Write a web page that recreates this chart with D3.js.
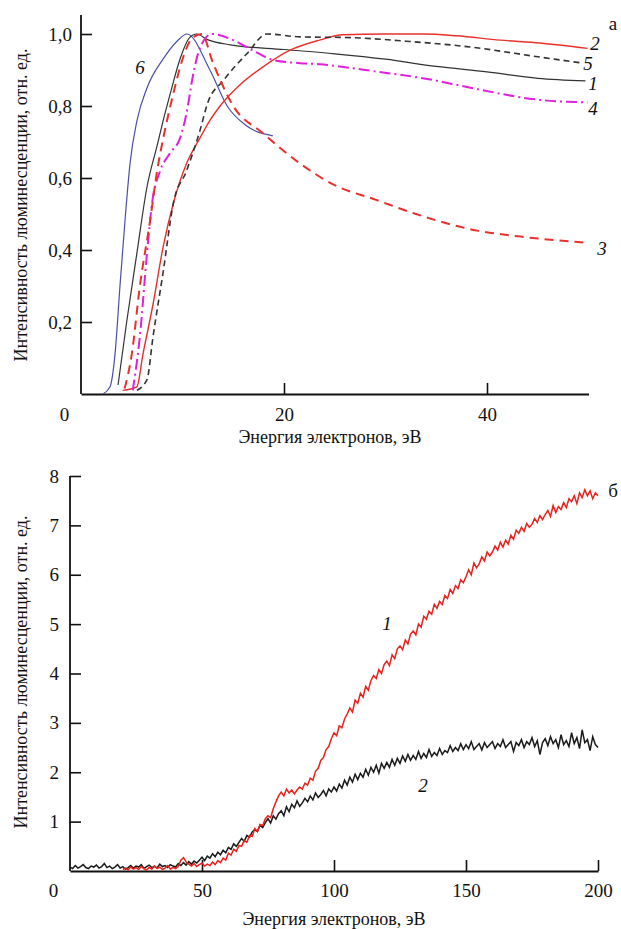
<!DOCTYPE html>
<html>
<head>
<meta charset="utf-8">
<script src="https://cdn.jsdelivr.net/npm/d3@7"></script>
<style>
  body { margin: 0; background: #fff; }
</style>
</head>
<body>
<div id="chart"></div>
<script>
const FONT = "'Liberation Serif', 'DejaVu Serif', Times, serif";

// ---- panel а : normalised luminescence vs electron energy ----
const curve1 = [[3.65,0.025],[4.5,0.2],[5.5,0.39],[6.5,0.575],[7.5,0.69],[8.1,0.76],[8.8,0.835],[9.75,0.93],[10.7,0.99],[11.4,1.0],[12.4,0.985],[14.7,0.97],[20,0.957],[25,0.945],[30,0.93],[35,0.91],[40,0.895],[45,0.877],[49.7,0.87]];
const curve2 = [[4.1,0.01],[5.5,0.02],[6.1,0.11],[7.1,0.25],[8.1,0.41],[9.1,0.53],[10.4,0.64],[11.7,0.71],[12.7,0.76],[13.7,0.8],[15.7,0.86],[17.9,0.908],[20.6,0.955],[23.5,0.983],[25.8,0.998],[30,1.0],[33.7,1.0],[37,0.995],[41.3,0.983],[45.2,0.975],[49.9,0.96]];
const curve3 = [[4.3,0.015],[5.0,0.11],[5.8,0.3],[6.8,0.48],[7.5,0.62],[8.1,0.71],[9.1,0.835],[10.0,0.93],[11.0,0.99],[11.9,1.0],[13,0.92],[15,0.8],[17.9,0.725],[21.6,0.64],[25,0.58],[29,0.54],[33,0.5],[38,0.46],[44,0.435],[50,0.42]];
const curve4 = [[5.1,0.01],[5.8,0.16],[6.5,0.39],[7.0,0.53],[7.8,0.62],[8.8,0.67],[9.75,0.71],[10.4,0.78],[11.0,0.88],[11.7,0.96],[12.9,1.0],[15,0.983],[16.9,0.955],[18.9,0.928],[21.6,0.919],[23.5,0.916],[28,0.9],[34.7,0.872],[38,0.853],[45.2,0.817],[49.9,0.81]];
const curve5 = [[5.5,0.01],[6.5,0.04],[7.1,0.16],[8.1,0.34],[9.1,0.53],[10.4,0.62],[11.7,0.73],[12.5,0.81],[14,0.87],[16.4,0.947],[18.3,1.0],[21.6,0.992],[26.5,0.99],[32,0.98],[38,0.965],[45.2,0.936],[49.2,0.92]];
const curve6 = [[2.17,0.0],[2.86,0.02],[3.35,0.11],[3.84,0.3],[4.33,0.48],[4.83,0.64],[5.52,0.76],[6.5,0.85],[8.08,0.93],[9.46,0.98],[10.44,1.0],[12.7,0.9],[14.4,0.8],[16.3,0.745],[18.9,0.717]];

const xTicksA = [0, 20, 40];
const yTicksA = [0.2, 0.4, 0.6, 0.8, 1.0];

// ---- panel б : raw luminescence, 1 eV steps ----
const energy2Start = 0;   // curve 2 (black) from 0 eV
const series2 = [
  0.08,0.05,0.11,0.06,0.09,0.13,0.07,0.05,0.10,0.08,
  0.12,0.06,0.09,0.15,0.07,0.10,0.05,0.08,0.13,0.06,
  0.09,0.04,0.07,0.11,0.06,0.10,0.08,0.13,0.05,0.09,
  0.12,0.07,0.10,0.06,0.14,0.09,0.11,0.07,0.13,0.10,
  0.08,0.15,0.11,0.17,0.12,0.19,0.14,0.20,0.16,0.22,
  0.28,0.21,0.30,0.26,0.35,0.29,0.38,0.33,0.42,0.37,
  0.48,0.44,0.55,0.50,0.58,0.66,0.60,0.72,0.68,0.79,
  0.84,0.80,0.93,0.88,0.98,1.06,0.97,1.12,1.05,1.16,
  1.22,1.12,1.30,1.20,1.35,1.28,1.42,1.31,1.38,1.47,
  1.40,1.52,1.44,1.58,1.49,1.55,1.63,1.52,1.66,1.60,
  1.70,1.62,1.76,1.68,1.84,1.74,1.90,1.80,1.96,1.85,
  1.98,1.90,2.06,1.94,2.10,2.00,2.14,1.98,2.18,2.08,
  2.20,2.10,2.26,2.14,2.28,2.18,2.33,2.22,2.36,2.24,
  2.34,2.26,2.42,2.28,2.38,2.30,2.46,2.32,2.40,2.34,
  2.48,2.36,2.44,2.40,2.54,2.42,2.50,2.44,2.58,2.46,
  2.56,2.48,2.62,2.46,2.52,2.58,2.45,2.60,2.50,2.56,
  2.62,2.48,2.58,2.52,2.66,2.50,2.56,2.62,2.42,2.60,
  2.54,2.66,2.50,2.62,2.56,2.70,2.52,2.64,2.36,2.60,
  2.68,2.54,2.72,2.58,2.66,2.50,2.76,2.56,2.64,2.52,
  2.80,2.58,2.70,2.48,2.86,2.60,2.66,2.44,2.72,2.56,
  2.50
];
const energy1Start = 20;  // curve 1 (red) from 20 eV
const series1 = [
  0.03,0.06,0.02,0.08,0.04,0.07,0.03,0.09,0.05,0.02,
  0.07,0.04,0.10,0.05,0.08,0.03,0.06,0.11,0.04,0.07,
  0.05,0.09,0.22,0.27,0.18,0.14,0.10,0.15,0.09,0.13,
  0.16,0.10,0.14,0.11,0.18,0.13,0.21,0.17,0.26,0.22,
  0.36,0.32,0.44,0.40,0.52,0.50,0.62,0.58,0.72,0.70,
  0.86,0.80,0.94,0.92,1.06,1.12,1.08,1.26,1.40,1.52,
  1.60,1.52,1.66,1.58,1.64,1.56,1.64,1.70,1.66,1.78,
  1.74,1.88,1.84,2.02,2.08,2.24,2.30,2.46,2.52,2.68,
  2.80,2.74,2.94,2.90,3.08,3.18,3.30,3.22,3.46,3.40,
  3.60,3.52,3.74,3.66,3.86,3.96,3.90,4.08,4.00,4.18,
  4.25,4.16,4.38,4.30,4.50,4.56,4.48,4.68,4.60,4.80,
  4.86,4.78,5.00,4.94,5.16,5.10,5.26,5.20,5.40,5.32,
  5.46,5.40,5.58,5.52,5.70,5.62,5.78,5.72,5.90,5.84,
  5.96,6.10,6.00,6.24,6.14,6.22,6.36,6.28,6.46,6.38,
  6.46,6.58,6.50,6.66,6.56,6.70,6.62,6.80,6.72,6.90,
  6.84,6.96,6.88,7.04,6.96,7.02,7.14,7.06,7.20,7.12,
  7.22,7.30,7.18,7.40,7.26,7.38,7.32,7.46,7.36,7.54,
  7.48,7.60,7.44,7.66,7.56,7.72,7.60,7.70,7.54,7.66,
  7.60
];
const xTicksB = [0, 50, 100, 150, 200];
const yTicksB = [1, 2, 3, 4, 5, 6, 7, 8];

const yTitle = 'Интенсивность люминесценции, отн. ед.';
const xTitle = 'Энергия электронов, эВ';

const svg = d3.select('#chart').append('svg')
  .attr('width', 621)
  .attr('height', 929);

function addText(x, y, str, size, italic) {
  return svg.append('text')
    .attr('x', x).attr('y', y)
    .attr('text-anchor', 'middle')
    .style('font-family', FONT)
    .style('font-size', size + 'px')
    .style('font-style', italic ? 'italic' : 'normal')
    .style('fill', '#111')
    .text(str);
}

function drawAxes(x, y, xTicks, yTicks, fmtY, opts) {
  const g = svg.append('g');
  const xAxis = g.append('g')
    .attr('transform', `translate(0,${y.range()[0]})`)
    .call(d3.axisBottom(x).tickValues(xTicks).tickSize(-11).tickPadding(opts.xPad).tickSizeOuter(0));
  const yAxis = g.append('g')
    .attr('transform', `translate(${x.range()[0]},0)`)
    .call(d3.axisLeft(y).tickValues(yTicks).tickSize(-11).tickPadding(opts.yPad).tickSizeOuter(0).tickFormat(fmtY));
  [xAxis, yAxis].forEach(a => {
    a.select('.domain').attr('stroke', '#111').attr('stroke-width', 1.8);
    a.selectAll('.tick line').attr('stroke', '#111').attr('stroke-width', 1.6);
    a.selectAll('.tick text')
      .style('font-family', FONT)
      .style('font-size', '19px')
      .style('fill', '#111');
  });
  // the "0" sits left of the y axis, no tick mark there
  xAxis.selectAll('.tick').filter(d => d === 0).each(function() {
    d3.select(this).select('line').remove();
    d3.select(this).select('text').attr('dx', opts.zeroDx);
  });
  // y axis line reaches the top of the range
  yAxis.select('.domain').attr('d', `M0,${y.range()[0]}V${opts.yTop}`);
}

// ---------- panel а ----------
const xA = d3.scaleLinear().domain([0, 50]).range([81, 588.5]);
const yA = d3.scaleLinear().domain([0, 1]).range([394, 34]);

drawAxes(xA, yA, xTicksA, yTicksA, d => d.toFixed(1).replace('.', ','), {xPad: 14, yPad: 9, zeroDx: -17, yTop: 15});

const lineA = d3.line().x(d => xA(d[0])).y(d => yA(d[1])).curve(d3.curveMonotoneX);
const stylesA = [
  {data: curve6, color: '#4b4fa6', width: 1.2, dash: null},
  {data: curve1, color: '#333333', width: 1.2, dash: null},
  {data: curve2, color: '#e8302c', width: 1.4, dash: null},
  {data: curve5, color: '#333333', width: 1.6, dash: '6,4'},
  {data: curve4, color: '#e020dc', width: 2, dash: '11,4,2,4'},
  {data: curve3, color: '#e8302c', width: 2, dash: '9,6'}
];
svg.append('g').selectAll('path')
  .data(stylesA)
  .enter().append('path')
  .attr('d', s => lineA(s.data))
  .attr('fill', 'none')
  .attr('stroke', s => s.color)
  .attr('stroke-width', s => s.width)
  .attr('stroke-dasharray', s => s.dash);

const labelsA = [['2', 595, 50], ['5', 588, 70], ['1', 593, 90], ['4', 593, 115], ['3', 602, 255], ['6', 140, 74]];
labelsA.forEach(d => addText(d[1], d[2], d[0], 19, true));
addText(613, 30, 'а', 19, false);

addText(330, 443, xTitle, 18, false);
addText(0, 0, yTitle, 18, false).attr('transform', 'translate(27,205) rotate(-90)');

// ---------- panel б ----------
const xB = d3.scaleLinear().domain([0, 200]).range([70, 598]);
const yB = d3.scaleLinear().domain([0, 8]).range([871, 476]);

drawAxes(xB, yB, xTicksB, yTicksB, d => d, {xPad: 13, yPad: 11, zeroDx: -17, yTop: 476});

const lineB = d3.line().x(d => xB(d[0])).y(d => yB(d[1]));
const pts2 = series2.map((v, i) => [energy2Start + i, v]);
const pts1 = series1.map((v, i) => [energy1Start + i, v]);

svg.append('path').attr('d', lineB(pts2)).attr('fill', 'none').attr('stroke', '#1a1a1a').attr('stroke-width', 1.5);
svg.append('path').attr('d', lineB(pts1)).attr('fill', 'none').attr('stroke', '#e8221c').attr('stroke-width', 1.5);

const labelsB = [['1', 387, 630], ['2', 423, 792]];
labelsB.forEach(d => addText(d[1], d[2], d[0], 19, true));
addText(613, 497, 'б', 19, false);

addText(334, 925, xTitle, 18, false);
addText(0, 0, yTitle, 18, false).attr('transform', 'translate(27,672) rotate(-90)');
</script>
</body>
</html>
